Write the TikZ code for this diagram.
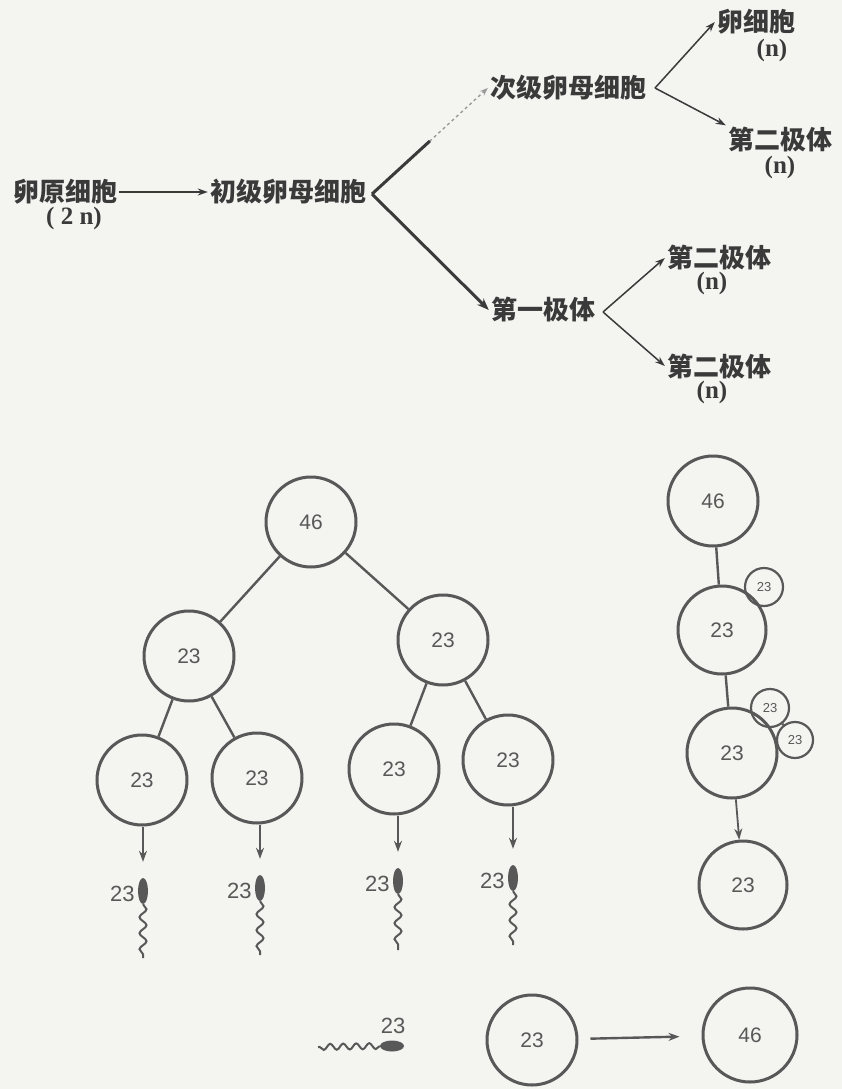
\documentclass[tikz,border=0pt]{standalone}
\usepackage{fontspec}
\usetikzlibrary{arrows.meta,shapes.geometric,decorations.pathmorphing,calc}
\newfontfamily\cjk{Noto Sans CJK SC}
\newfontfamily\numfont{Liberation Sans}
\newfontfamily\parfont{Liberation Serif}
\definecolor{paper}{HTML}{F4F4F1}
\definecolor{ink}{HTML}{3A3A3A}
\definecolor{pen}{HTML}{585858}
\definecolor{faint}{HTML}{9A9A9A}
\tikzset{
  lbl/.style={font=\cjk\bfseries\fontsize{26}{28}\selectfont, text=ink, inner sep=2pt},
  nlbl/.style={font=\parfont\bfseries\fontsize{25}{27}\selectfont, text=ink, inner sep=1pt},
  cell/.style={circle, draw=pen, line width=3pt, minimum size=90pt, inner sep=0pt,
    font=\numfont\fontsize{21}{22}\selectfont, text=pen},
  polar/.style={cell, minimum size=38pt, line width=2.2pt, font=\numfont\fontsize{13}{14}\selectfont},
  link/.style={draw=pen, line width=2.4pt},
  arr/.style={link, -{Stealth[length=11pt,width=8pt]}},
  thinarr/.style={draw=ink, line width=1.5pt, -{Stealth[length=10pt,width=7pt]}},
  fork/.style={draw=ink, line width=3pt},
  head/.style={ellipse, fill=pen, inner sep=0pt, minimum width=10pt, minimum height=26pt},
  tail/.style={draw=pen, line width=2pt, decorate,
    decoration={snake, amplitude=3.5pt, segment length=16pt}},
  spermnum/.style={font=\numfont\fontsize{22}{24}\selectfont, text=pen, inner sep=0pt},
}
\begin{document}
\begin{tikzpicture}[x=1pt, y=-1pt]
\fill[paper] (0,0) rectangle (842,1089);
\useasboundingbox (0,0) rectangle (842,1089);

% ---------- oogenesis scheme ----------
\node[lbl] (oog) at (65,192) {卵原细胞};
\node[nlbl] (oogn) at (74,218) {( 2 n)};
\node[lbl] (po) at (288,192) {初级卵母细胞};
\draw[thinarr] (oog) -- (po);

\coordinate (forkA) at (372,194);
\node[lbl] (so) at (568,88) {次级卵母细胞};
\node[lbl] (pb1) at (543,310) {第一极体};
\draw[draw=faint, line width=1.4pt, dashed, -{Stealth[length=8pt,width=6pt]}] (forkA) -- (so.west);
\draw[fork] (forkA) -- ($(forkA)!0.5!(so.west)$);
\draw[fork, -{Stealth[length=12pt,width=9pt]}] (forkA) -- (pb1.west);

\coordinate (forkB) at (655,88);
\node[lbl] (egg) at (756,22) {卵细胞};
\node[nlbl] (eggn) at (772,50) {(n)};
\node[lbl] (pb2a) at (780,140) {第二极体};
\node[nlbl] (pb2an) at (780,167) {(n)};
\draw[thinarr] (forkB) -- (egg.west);
\draw[thinarr] (forkB) -- (pb2a.north west);

\coordinate (forkC) at (603,312);
\node[lbl] (pb2b) at (719,258) {第二极体};
\node[nlbl] (pb2bn) at (712,283) {(n)};
\node[lbl] (pb2c) at (719,366) {第二极体};
\node[nlbl] (pb2cn) at (712,392) {(n)};
\draw[thinarr] (forkC) -- (pb2b.west);
\draw[thinarr] (forkC) -- (pb2c.west);

% ---------- spermatogenesis tree ----------
\node[cell] (z) at (311,522) {46};
\node[cell] (a) at (189,656) {23};
\node[cell] (b) at (443,640) {23};
\node[cell] (a1) at (142,780) {23};
\node[cell] (a2) at (257,778) {23};
\node[cell] (b1) at (394,769) {23};
\node[cell] (b2) at (508,760) {23};
\draw[link] (z) -- (a);
\draw[link] (z) -- (b);
\draw[link] (a) -- (a1);
\draw[link] (a) -- (a2);
\draw[link] (b) -- (b1);
\draw[link] (b) -- (b2);

% sperm cells
\foreach \c/\x/\y/\e in {a1/143/891/958, a2/260/888/955, b1/398/881/950, b2/513/878/945}{
  \node[head] (h\c) at (\x,\y) {};
  \node[spermnum, anchor=east] (t\c) at ($(h\c.west)+(-3,3)$) {23};
  \coordinate (e\c) at (\x,\e);
  \draw[tail] (h\c.south) -- (e\c);
  \draw[arr, line width=1.6pt] (\c.south -| h\c.north) -- ($(h\c.north)+(0,-16)$);
}

% ---------- oocyte line ----------
\node[cell] (c0) at (713,501) {46};
\node[cell, minimum size=88pt] (c1) at (722,630) {23};
\node[polar] (q1) at (764,587) {23};
\node[cell] (c2) at (732,753) {23};
\node[polar] (q2) at (770,708) {23};
\node[polar, minimum size=36pt] (q3) at (795,740) {23};
\node[cell, minimum size=88pt] (c3) at (743,885) {23};
\draw[link] (c0) -- (c1);
\draw[link] (c1) -- (c2);
\draw[link] (q2) -- (q3);
\draw[arr, line width=1.8pt] (c2) -- (c3);

% ---------- fertilisation ----------
\node[head, minimum width=24pt, minimum height=11pt] (hs) at (392,1046) {};
\node[spermnum] (hsn) at (393,1026) {23};
\coordinate (hse) at (318,1047);
\draw[tail, decoration={snake, amplitude=3pt, segment length=13pt}] (hs.west) -- (hse);
\node[cell] (f1) at (532,1040) {23};
\node[cell, minimum size=94pt] (f2) at (750,1035) {46};
\draw[arr, shorten <=12pt, shorten >=22pt] (f1) -- (f2);
\end{tikzpicture}
\end{document}
